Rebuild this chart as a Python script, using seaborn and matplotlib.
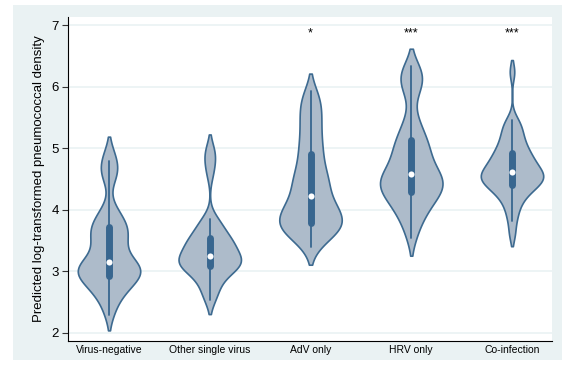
import numpy as np
import pandas as pd
import matplotlib
matplotlib.use("Agg")
import matplotlib.pyplot as plt
from matplotlib.patches import Rectangle
import seaborn as sns

categories = ["Virus-negative", "Other single virus", "AdV only", "HRV only", "Co-infection"]

virus_negative = [2.30, 2.47, 2.57, 2.65, 2.71, 2.76, 2.80, 2.84, 2.87, 2.90,
                  2.94, 2.96, 2.985, 3.01, 3.035, 3.06, 3.08, 3.10, 3.12, 3.14,
                  3.18, 3.26, 3.33, 3.40, 3.46, 3.52, 3.57, 3.62, 3.66, 3.71,
                  3.75, 3.80, 3.86, 3.94, 4.05, 4.50, 4.60, 4.69, 4.79, 4.93]
other_single_virus = [2.53, 2.62, 2.71, 2.79, 2.86, 2.92, 2.97, 3.01, 3.045, 3.075,
                      3.09, 3.10, 3.115, 3.13, 3.15, 3.17, 3.19, 3.21, 3.23, 3.245,
                      3.27, 3.31, 3.35, 3.39, 3.42, 3.45, 3.47, 3.49, 3.51, 3.53,
                      3.58, 3.64, 3.70, 3.76, 3.81, 3.85, 4.58, 4.76, 4.88, 5.00]
adv_only = [3.39, 3.50, 3.57, 3.62, 3.66, 3.69, 3.72, 3.745, 3.76, 3.77,
            3.80, 3.86, 3.90, 3.94, 3.98, 4.01, 4.04, 4.08, 4.12, 4.16,
            4.28, 4.33, 4.38, 4.43, 4.49, 4.55, 4.62, 4.70, 4.79, 4.89,
            4.97, 5.07, 5.17, 5.28, 5.39, 5.50, 5.60, 5.70, 5.81, 5.93]
hrv_only = [3.54, 3.73, 3.84, 3.93, 4.00, 4.06, 4.12, 4.17, 4.22, 4.26,
            4.29, 4.32, 4.35, 4.38, 4.42, 4.45, 4.48, 4.51, 4.54, 4.57,
            4.60, 4.65, 4.70, 4.76, 4.82, 4.88, 4.94, 5.00, 5.06, 5.11,
            5.18, 5.27, 5.38, 5.52, 5.88, 6.00, 6.09, 6.17, 6.25, 6.33]
co_infection = [3.60, 3.82, 3.96, 4.07, 4.15, 4.22, 4.27, 4.31, 4.35, 4.38,
                4.41, 4.43, 4.455, 4.48, 4.50, 4.52, 4.54, 4.56, 4.58, 4.595,
                4.62, 4.65, 4.68, 4.71, 4.74, 4.77, 4.80, 4.84, 4.88, 4.91,
                4.95, 5.00, 5.05, 5.11, 5.17, 5.24, 5.31, 5.39, 5.46, 6.24]

significance = ["", "", "*", "***", "***"]
y_ticks = [2, 3, 4, 5, 6, 7]
y_label = "Predicted log-transformed pneumococcal density"

groups = [virus_negative, other_single_virus, adv_only, hrv_only, co_infection]
df = pd.DataFrame({
    "group": np.repeat(categories, [len(g) for g in groups]),
    "value": np.concatenate(groups),
})

sns.set_theme(style="ticks")
plt.rcParams["font.family"] = ["Liberation Sans", "DejaVu Sans"]

W, H = 562, 365
fig = plt.figure(figsize=(W / 100, H / 100), dpi=100, facecolor="white")
fig.patches.append(Rectangle((13 / W, 5 / H), 549 / W, 355 / H, transform=fig.transFigure,
                             facecolor="#EAF2F3", edgecolor="none", zorder=-10))
ax = fig.add_axes([68 / W, 24 / H, 484 / W, 324 / H])
ax.set_facecolor("white")
ax.set_axisbelow(True)
ax.yaxis.grid(True, color="#EAF2F3", linewidth=1.2)

sns.violinplot(data=df, x="group", y="value", order=categories, ax=ax,
               color="#ADBBCA", saturation=1, linecolor="#3D6A90", linewidth=1.2,
               inner="box",
               inner_kws=dict(box_width=5, whis_width=1.3, color="#38668F",
                              marker="o", markersize=4.4, markeredgewidth=0,
                              markerfacecolor="white"),
               density_norm="width", width=0.62, bw_method=0.28, cut=1.4)

for i, s in enumerate(significance):
    if s:
        ax.text(i, 6.86, s, ha="center", va="center", fontsize=9, color="black")

ax.set_xlim(-0.407, 4.397)
ax.set_ylim(1.87, 7.13)
ax.set_yticks(y_ticks)
ax.set_xlabel("")
ax.set_ylabel(y_label, fontsize=9.5, color="black", labelpad=5)
for side in ["top", "right"]:
    ax.spines[side].set_visible(False)
for side in ["left", "bottom"]:
    ax.spines[side].set_color("black")
    ax.spines[side].set_linewidth(0.8)
ax.tick_params(axis="y", length=4.5, width=0.8, color="#333333", labelsize=9.5, pad=2, labelcolor="black")
ax.tick_params(axis="x", length=0, labelsize=7.5, pad=3, labelcolor="black")

fig.savefig("out.png", dpi=100, facecolor="white")
